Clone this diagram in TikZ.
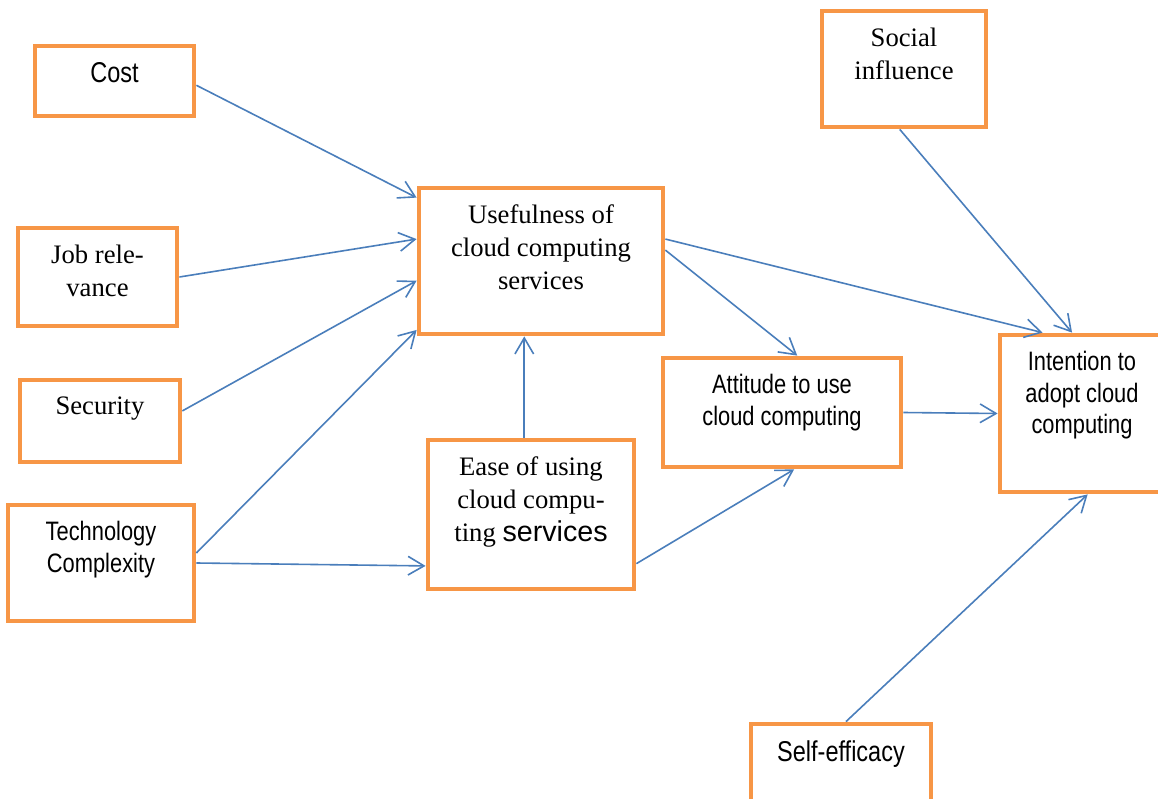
\documentclass[tikz,border=0pt]{standalone}
\usepackage{fontspec}
\setmainfont{Liberation Serif}
\newfontfamily\sanfam[FakeStretch=0.82]{Liberation Sans}
\newfontfamily\widesan{Liberation Sans}
\usetikzlibrary{arrows.meta}
\definecolor{boxorange}{HTML}{F79646}
\definecolor{linkblue}{HTML}{4A7EBB}
\newcommand{\sanf}{\sanfam\fontsize{20pt}{23.5pt}\selectfont}
\newcommand{\bigsanf}{\sanfam\fontsize{21.5pt}{25pt}\selectfont}
\newcommand{\serf}{\fontsize{20pt}{24.75pt}\selectfont}

\begin{document}
\begin{tikzpicture}[x=0.75pt, y=-0.75pt,
  factor/.style 2 args={
    draw=boxorange, line width=3.6pt, fill=white,
    minimum width=#1*0.75pt, minimum height=#2*0.75pt, inner sep=0pt
  },
  txt/.style={anchor=north, yshift=-14pt, align=center, inner sep=0pt, font=\serf},
  stxt/.style={txt, font=\sanf},
  link/.style={draw=linkblue, line width=1.2pt,
    -{Straight Barb[length=12pt, width=14pt]}}]

\useasboundingbox (0,0) rectangle (1158,799);

% --- Left column: external factors ---
\node[factor={159}{70}, label={[stxt, font=\bigsanf]north:Cost}] (cost) at (114.5,81) {};
\node[factor={159}{98}, label={[txt]north:Job rele-\\vance}] (job) at (97.5,277) {};
\node[factor={160}{82}, label={[txt]north:Security}] (sec) at (100,421) {};
\node[factor={186}{116}, label={[stxt]north:Technology\\Complexity}] (tech) at (101,563) {};

% --- Middle: perceived usefulness and ease of use ---
\node[factor={244}{146}, label={[txt]north:Usefulness of\\cloud computing\\services}] (use) at (541,261) {};
\node[factor={206}{149}, label={[txt]north:Ease of using\\cloud compu-\\ting {\widesan\fontsize{21.5pt}{24.75pt}\selectfont services}}] (ease) at (531,514.5) {};

% --- Attitude ---
\node[factor={238}{109}, label={[stxt]north:Attitude to use\\cloud computing}] (att) at (782,412.5) {};

% --- Right: social influence, intention, self-efficacy ---
\node[factor={164}{116}, label={[txt]north:Social\\influence}] (soc) at (904,69) {};
\node[factor={164}{157}, label={[stxt]north:Intention to\\adopt cloud\\computing}] (int) at (1082,413.5) {};
\node[factor={180}{90}, label={[stxt, font=\bigsanf]north:Self-efficacy}] (self) at (841,769) {};

% Arrows into usefulness
\draw[link] (cost.-3) -- (use.153);
\draw[link] (job.east) -- (use.170);
\draw[link] (sec.7) -- (use.189);
\draw[link] (tech.6) -- (use.209);

% Arrows from ease of use
\draw[link] (tech.east) -- (ease.206);
\draw[link] (ease.95) -- (ease.95 |- use.south);
\draw[link] (ease.-25) -- (att.-78);

% Arrows towards attitude and intention
\draw[link] (use.5) -- (att.75);
\draw[link] (use.10) -- (int.116);
\draw[link] (soc.-94) -- (int.97);
\draw[link] (att.east) -- (int.west);
\draw[link] (self.84) -- (int.-86);

\end{tikzpicture}
\end{document}
